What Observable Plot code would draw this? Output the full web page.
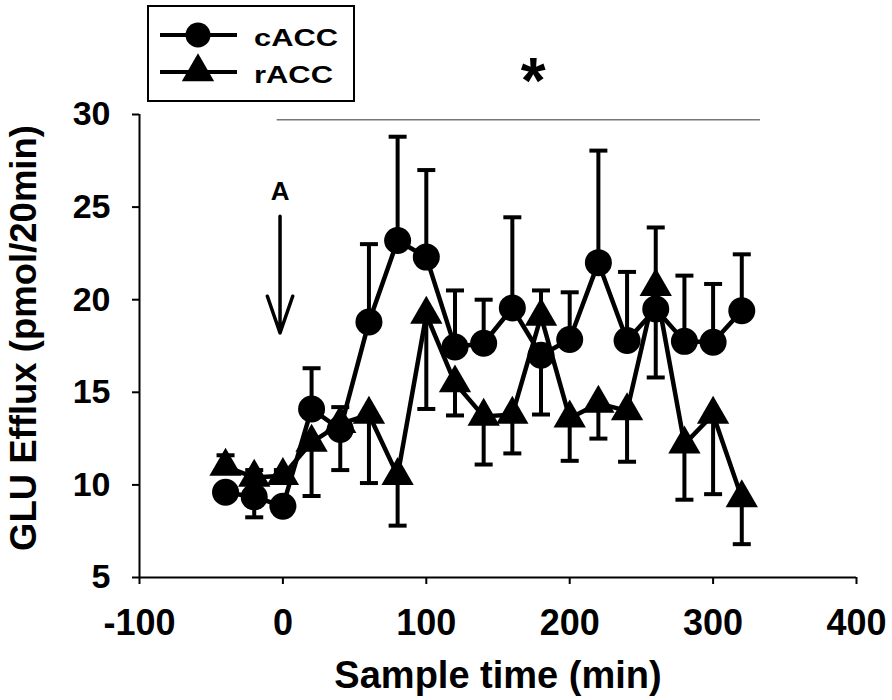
<!DOCTYPE html>
<html>
<head>
<meta charset="utf-8">
<script src="https://cdn.jsdelivr.net/npm/d3@7"></script>
<script src="https://cdn.jsdelivr.net/npm/@observablehq/plot@0.6"></script>
<style>
  html, body { margin: 0; padding: 0; background: #fff; }
  #wrap { position: relative; width: 892px; height: 700px; font-family: "Liberation Sans", Arial, Helvetica, sans-serif; }
  #legend { position: absolute; left: 0; top: 0; pointer-events: none; }
</style>
</head>
<body>
<div id="wrap"></div>
<script>
// ---- data ----
const time = [-40, -20, 0, 20, 40, 60, 80, 100, 120, 140, 160, 180, 200, 220, 240, 260, 280, 300, 320];

const cACC = [9.6, 9.35, 8.85, 14.1, 13.0, 18.8, 23.2, 22.3, 17.45, 17.65, 19.55, 17.0, 17.85, 22.0, 17.8, 19.5, 17.75, 17.7, 19.4];
const cErr = [0.3, 1.1, 0.3, 2.2, 2.2, 4.2, 5.6, 4.7, 3.05, 2.35, 4.9, 3.2, 2.55, 6.05, 3.7, 3.7, 3.55, 3.15, 3.05];
const cDir = [-1, -1, -1, 1, -1, 1, 1, 1, 1, 1, 1, -1, 1, 1, 1, -1, 1, 1, 1];

const rACC = [11.0, 10.4, 10.5, 12.3, 13.3, 13.8, 10.5, 19.2, 15.5, 13.7, 13.8, 19.1, 13.6, 14.4, 14.0, 20.7, 12.2, 13.8, 9.3];
const rErr = [0.6, 0.4, 0.3, 2.9, 0.9, 3.7, 2.7, 5.1, 1.75, 2.6, 2.1, 1.4, 2.3, 1.9, 2.75, 3.2, 3.0, 4.3, 2.5];
const rDir = [1, 1, 1, -1, 1, -1, -1, -1, -1, -1, -1, 1, -1, -1, -1, 1, -1, -1, -1];

const seriesNames = ["cACC", "rACC"];
const seriesSymbols = ["circle", "triangle"];

const xTicks = [-100, 0, 100, 200, 300, 400];
const yTicks = [5, 10, 15, 20, 25, 30];
const xLabel = "Sample time (min)";
const yLabel = "GLU Efflux (pmol/20min)";

// annotations (data coordinates)
const injection = [{label: "A", time: -2, top: 24.5, bottom: 18.2, labelY: 25.85}];
const sigLine = [{y: 29.72, x1: -4, x2: 333}];
const sigStar = [{x: 174.5, y: 31.75, text: "*"}];

// ---- build table ----
const rows = time.flatMap((t, i) => [
  {series: seriesNames[0], time: t, value: cACC[i], end: cACC[i] + cDir[i] * cErr[i]},
  {series: seriesNames[1], time: t, value: rACC[i], end: rACC[i] + rDir[i] * rErr[i]}
]);

const capSymbol = {
  draw(context, size) {
    const w = Math.sqrt(size / Math.PI);
    context.moveTo(-w, 0);
    context.lineTo(w, 0);
  }
};

const hyphenFormat = d => (d < 0 ? "-" + Math.abs(d) : String(d));
const font = "'Liberation Sans', Arial, Helvetica, sans-serif";

const chart = Plot.plot({
  width: 892,
  height: 700,
  marginLeft: 139,
  marginRight: 36,
  marginTop: 114,
  marginBottom: 123,
  style: {fontFamily: font, color: "black", background: "white", overflow: "visible"},
  x: {domain: [-100, 400]},
  y: {domain: [5, 30]},
  marks: [
    Plot.axisX({ticks: xTicks, tickFormat: hyphenFormat, tickSize: 7, tickPadding: 25, fontSize: 36, fontWeight: "bold", strokeWidth: 2, label: null}),
    Plot.axisY({ticks: yTicks, tickFormat: hyphenFormat, tickSize: 7, tickPadding: 22, fontSize: 34, fontWeight: "bold", strokeWidth: 2, label: null}),
    Plot.ruleY([5], {strokeWidth: 2}),
    Plot.ruleX([-100], {strokeWidth: 2}),
    Plot.text([xLabel], {frameAnchor: "bottom", lineAnchor: "middle", dy: 98, fontSize: 38, fontWeight: "bold", fill: "black"}),
    Plot.text([yLabel], {frameAnchor: "left", textAnchor: "middle", lineAnchor: "middle", rotate: -90, dx: -115, dy: -8, fontSize: 36.5, fontWeight: "bold", fill: "black"}),
    // significance annotation
    Plot.ruleY(sigLine, {y: "y", x1: "x1", x2: "x2", stroke: "#777", strokeWidth: 1.5}),
    Plot.text(sigStar, {x: "x", y: "y", text: "text", fontSize: 64, fontWeight: "bold", fill: "black"}),
    // injection arrow
    Plot.arrow(injection, {x1: "time", x2: "time", y1: "top", y2: "bottom", headAngle: 38, headLength: 32, strokeWidth: 3.5, stroke: "black"}),
    Plot.text(injection, {x: "time", y: "labelY", text: "label", fontSize: 26, fontWeight: "bold", fill: "black"}),
    // error bars
    Plot.ruleX(rows, {x: "time", y1: "value", y2: "end", stroke: "black", strokeWidth: 4}),
    Plot.dot(rows, {x: "time", y: "end", symbol: capSymbol, r: 9, stroke: "black", strokeWidth: 4, fill: "none"}),
    // lines
    Plot.line(rows, {x: "time", y: "value", z: "series", stroke: "black", strokeWidth: 4.5, strokeLinejoin: "round"}),
    // markers
    Plot.dot(rows.filter(d => d.series === seriesNames[0]), {x: "time", y: "value", symbol: seriesSymbols[0], r: 13.5, fill: "black", stroke: "none"}),
    Plot.dot(rows.filter(d => d.series === seriesNames[1]), {x: "time", y: "value", symbol: seriesSymbols[1], r: 12, fill: "black", stroke: "none"})
  ]
});

const wrap = document.getElementById("wrap");
wrap.appendChild(chart);

// ---- legend ----
const leg = d3.create("svg")
  .attr("id", "legend")
  .attr("width", 892)
  .attr("height", 112);
leg.append("rect")
  .attr("x", 148).attr("y", 6).attr("width", 206).attr("height", 95)
  .attr("fill", "white").attr("stroke", "black").attr("stroke-width", 2);
const itemY = [35, 72];
const textLen = [84, 79];
seriesNames.forEach((name, i) => {
  const g = leg.append("g");
  g.append("line")
    .attr("x1", 160).attr("x2", 237).attr("y1", itemY[i]).attr("y2", itemY[i])
    .attr("stroke", "black").attr("stroke-width", 4);
  const sym = seriesSymbols[i] === "circle" ? d3.symbolCircle : d3.symbolTriangle;
  const r = seriesSymbols[i] === "circle" ? 12.5 : 12;
  g.append("path")
    .attr("d", d3.symbol(sym, Math.PI * r * r)())
    .attr("transform", `translate(198,${itemY[i]})`)
    .attr("fill", "black");
  g.append("text")
    .attr("x", 254).attr("y", itemY[i] + 11)
    .attr("font-family", font).attr("font-weight", "bold").attr("font-size", 24)
    .attr("textLength", textLen[i]).attr("lengthAdjust", "spacingAndGlyphs")
    .attr("fill", "black")
    .text(name);
});
wrap.appendChild(leg.node());
</script>
</body>
</html>
